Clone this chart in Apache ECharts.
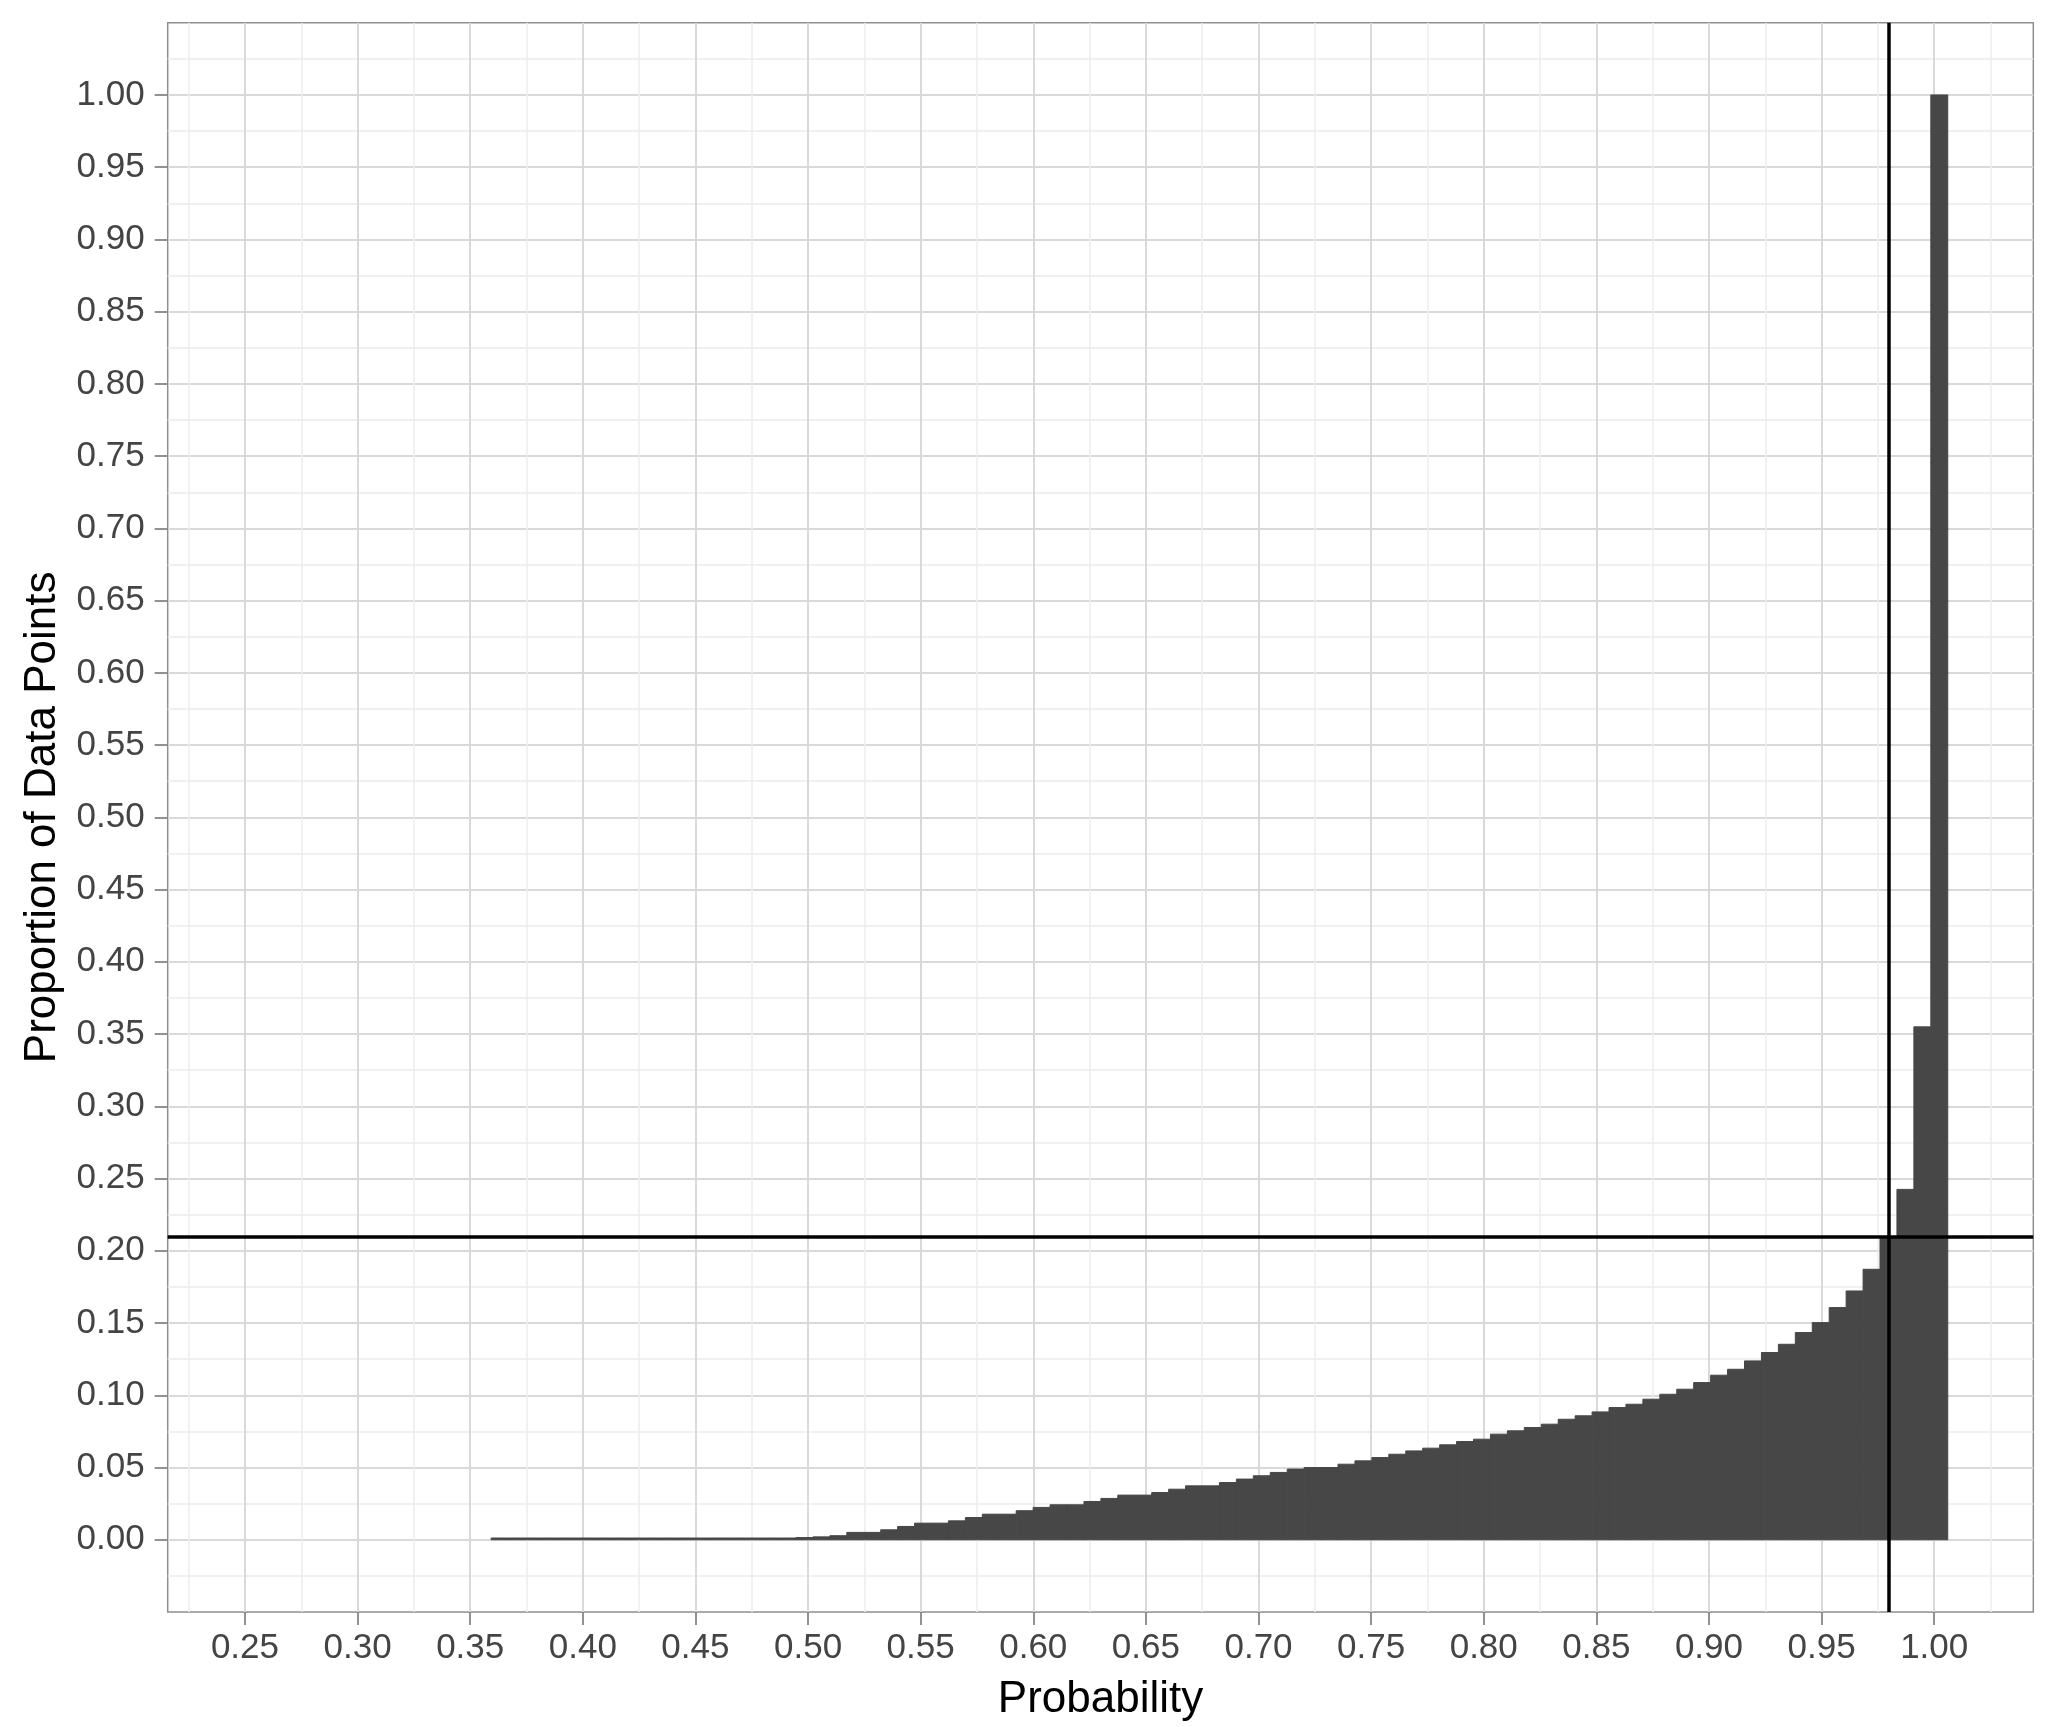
<!DOCTYPE html>
<html>
<head>
<meta charset="utf-8">
<script src="https://cdn.jsdelivr.net/npm/echarts@6/dist/echarts.min.js"></script>
<style>
  html, body { margin: 0; padding: 0; background: #fff; }
  #chart { width: 2047px; height: 1727px; }
</style>
</head>
<body>
<div id="chart"></div>
<script>
// histogram bins: left edge of the first bin, width of every bin
var binStart = 0.3593
var binWidth = 0.00752
// proportion of data points in each bin
var binHeights = [
  0.0012, 0.0012, 0.0012, 0.0012, 0.0012, 0.0012, 0.0012, 0.0012, 0.0012, 0.0012,
  0.0012, 0.0012, 0.0012, 0.0012, 0.0012, 0.0012, 0.0012, 0.0012, 0.0015, 0.0020,
  0.0028, 0.0051, 0.0051, 0.0069, 0.0092, 0.0115, 0.0115, 0.0131, 0.0154, 0.0177,
  0.0177, 0.0201, 0.0224, 0.0242, 0.0242, 0.0265, 0.0286, 0.0309, 0.0309, 0.0327,
  0.0350, 0.0373, 0.0373, 0.0396, 0.0420, 0.0443, 0.0466, 0.0489, 0.0500, 0.0500,
  0.0523, 0.0546, 0.0569, 0.0592, 0.0615, 0.0634, 0.0657, 0.0680, 0.0696, 0.0731,
  0.0754, 0.0777, 0.0800, 0.0834, 0.0858, 0.0885, 0.0915, 0.0938, 0.0973, 0.1007,
  0.1042, 0.1088, 0.1139, 0.1180, 0.1238, 0.1296, 0.1353, 0.1434, 0.1503, 0.1607,
  0.1722, 0.1872, 0.2095, 0.2425, 0.3550, 1.0000
]
// reference lines
var cutoffProbability = 0.98
var cutoffProportion = 0.209
// tick values
var xMajorTicks = [0.25, 0.30, 0.35, 0.40, 0.45, 0.50, 0.55, 0.60, 0.65, 0.70, 0.75, 0.80, 0.85, 0.90, 0.95, 1.00]
var xMinorTicks = [0.225, 0.275, 0.325, 0.375, 0.425, 0.475, 0.525, 0.575, 0.625, 0.675, 0.725, 0.775, 0.825, 0.875, 0.925, 0.975, 1.025]
var yMajorTicks = [0, 0.05, 0.10, 0.15, 0.20, 0.25, 0.30, 0.35, 0.40, 0.45, 0.50, 0.55, 0.60, 0.65, 0.70, 0.75, 0.80, 0.85, 0.90, 0.95, 1.00]

var xMin = 0.2157
var xMax = 1.044
var fontFamily = '"Liberation Sans", Arial, sans-serif'
var barColor = '#474747'

var bins = []
for (var i = 0; i < binHeights.length; i++) {
  bins.push([binStart + i * binWidth, binStart + (i + 1) * binWidth, binHeights[i]])
}

var chart = echarts.init(document.getElementById('chart'))

var option = {
  animation: false,
  backgroundColor: '#fff',
  grid: {
    left: 167.7,
    right: 13.7,
    top: 22.7,
    bottom: 113.7,
    show: true,
    borderColor: '#8f8f8f',
    borderWidth: 1.5,
    backgroundColor: 'transparent'
  },
  xAxis: [{
    type: 'value',
    min: xMin,
    max: xMax,
    position: 'bottom',
    name: 'Probability',
    nameLocation: 'middle',
    nameGap: 66,
    nameTextStyle: { fontSize: 44, color: '#000', fontFamily: fontFamily },
    axisLine: { show: false, onZero: false },
    axisTick: {
      show: true,
      length: 13,
      customValues: xMajorTicks,
      lineStyle: { color: '#6f6f6f', width: 1.5 }
    },
    axisLabel: {
      customValues: xMajorTicks,
      margin: 19,
      fontSize: 35,
      lineHeight: 35,
      color: '#444',
      fontFamily: fontFamily,
      formatter: function (v) { return v.toFixed(2) }
    },
    splitLine: { show: true, lineStyle: { color: '#d9d9d9', width: 2 } }
  }, {
    type: 'value',
    min: xMin,
    max: xMax,
    position: 'bottom',
    axisLine: { show: false, onZero: false },
    axisTick: { show: false, customValues: xMinorTicks },
    axisLabel: { show: false, customValues: xMinorTicks },
    splitLine: { show: true, lineStyle: { color: '#ececec', width: 1.5 } }
  }],
  yAxis: {
    type: 'value',
    min: -0.05,
    max: 1.05,
    interval: 0.05,
    name: 'Proportion of Data Points',
    nameLocation: 'middle',
    nameGap: 103,
    nameTextStyle: { fontSize: 44, color: '#000', fontFamily: fontFamily },
    axisLine: { show: false, onZero: false },
    axisTick: {
      show: true,
      length: 13,
      customValues: yMajorTicks,
      lineStyle: { color: '#6f6f6f', width: 1.5 }
    },
    axisLabel: {
      customValues: yMajorTicks,
      margin: 23,
      fontSize: 35,
      lineHeight: 35,
      color: '#444',
      fontFamily: fontFamily,
      formatter: function (v) { return v.toFixed(2) }
    },
    splitLine: { show: true, lineStyle: { color: '#d9d9d9', width: 2 } },
    minorTick: { show: false, splitNumber: 2 },
    minorSplitLine: { show: true, lineStyle: { color: '#ececec', width: 1.5 } }
  },
  series: [{
    type: 'custom',
    xAxisIndex: 0,
    yAxisIndex: 0,
    z: 2,
    silent: true,
    encode: { x: [0, 1], y: 2 },
    data: bins,
    renderItem: function (params, api) {
      var topLeft = api.coord([api.value(0), api.value(2)])
      var bottomRight = api.coord([api.value(1), 0])
      return {
        type: 'rect',
        shape: {
          x: topLeft[0],
          y: topLeft[1],
          width: bottomRight[0] - topLeft[0],
          height: bottomRight[1] - topLeft[1]
        },
        style: { fill: barColor, stroke: barColor, lineWidth: 1 }
      }
    },
    markLine: {
      silent: true,
      symbol: 'none',
      label: { show: false },
      lineStyle: { color: '#000', width: 3.5, type: 'solid' },
      data: [{ xAxis: cutoffProbability }, { yAxis: cutoffProportion }]
    }
  }]
}

chart.setOption(option)
</script>
</body>
</html>
